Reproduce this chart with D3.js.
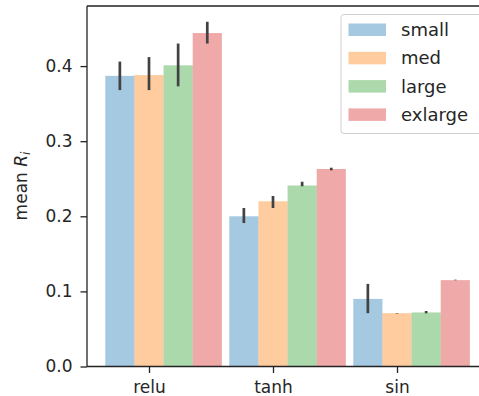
<!DOCTYPE html>
<html>
<head>
<meta charset="utf-8">
<script src="https://cdn.jsdelivr.net/npm/d3@7"></script>
<style>
  body { margin: 0; background: #fff; }
  svg { display: block; font-family: "DejaVu Sans", sans-serif; }
</style>
</head>
<body>
<div id="chart"></div>
<script>
// categories and hue levels
let activations = ["relu", "tanh", "sin"];
let sizes = ["small", "med", "large", "exlarge"];
let colors = ["#1f77b4", "#ff7f0e", "#2ca02c", "#d62728"];

// mean values per size, one entry per activation
let smallVals = [0.387, 0.200, 0.090];
let medVals = [0.388, 0.220, 0.071];
let largeVals = [0.401, 0.241, 0.072];
let exlargeVals = [0.444, 0.263, 0.115];

// error bar bounds (low, high)
let smallErr = [[0.368, 0.406], [0.191, 0.211], [0.071, 0.110]];
let medErr = [[0.368, 0.412], [0.211, 0.227], [0.0705, 0.0712]];
let largeErr = [[0.373, 0.430], [0.240, 0.246], [0.0708, 0.0739]];
let exlargeErr = [[0.430, 0.459], [0.2612, 0.2647], [0.1148, 0.1156]];

let yTicks = [0.0, 0.1, 0.2, 0.3, 0.4];

let allVals = [smallVals, medVals, largeVals, exlargeVals];
let allErr = [smallErr, medErr, largeErr, exlargeErr];

let bars = [];
sizes.forEach(function(s, j) {
  activations.forEach(function(a, i) {
    bars.push({ size: s, hue: j, cat: i, value: allVals[j][i], lo: allErr[j][i][0], hi: allErr[j][i][1] });
  });
});

let svgWidth = 479;
let svgHeight = 396;
let barW = 0.235;

let xScale = d3.scaleLinear()
  .domain([-0.5, 2.8])
  .range([87, 87 + 3.3 * 124]);

let yScale = d3.scaleLinear()
  .domain([0, 0.48])
  .range([366.5, 6]);

let svg = d3.select("#chart").append("svg")
  .attr("width", svgWidth)
  .attr("height", svgHeight);

// bars
svg.selectAll("rect.bar")
  .data(bars)
  .enter()
  .append("rect")
  .attr("class", "bar")
  .attr("x", function(d) { return xScale(d.cat + (d.hue - 1) * barW - barW / 2); })
  .attr("width", xScale(barW) - xScale(0))
  .attr("y", function(d) { return yScale(d.value); })
  .attr("height", function(d) { return yScale(0) - yScale(d.value); })
  .attr("fill", function(d) { return colors[d.hue]; })
  .attr("fill-opacity", 0.4);

// error bars
svg.selectAll("line.err")
  .data(bars)
  .enter()
  .append("line")
  .attr("class", "err")
  .attr("x1", function(d) { return xScale(d.cat + (d.hue - 1) * barW); })
  .attr("x2", function(d) { return xScale(d.cat + (d.hue - 1) * barW); })
  .attr("y1", function(d) { return yScale(d.lo); })
  .attr("y2", function(d) { return yScale(d.hi); })
  .attr("stroke", "#424242")
  .attr("stroke-width", 2.7);

// y axis
let yAxis = svg.append("g")
  .attr("transform", "translate(87,0)")
  .call(d3.axisLeft(yScale).tickValues(yTicks).tickFormat(d3.format(".1f")).tickSize(6.5).tickPadding(8));

// x axis
let xAxis = svg.append("g")
  .attr("transform", "translate(0,366.5)")
  .call(d3.axisBottom(xScale).tickValues([0, 1, 2]).tickFormat(function(d) { return activations[d]; }).tickSize(6.5).tickPadding(8));

svg.selectAll(".domain").attr("stroke", "#222").attr("stroke-width", 1.3);
svg.selectAll(".tick line").attr("stroke", "#222").attr("stroke-width", 1.3);
svg.selectAll(".tick text").attr("fill", "#262626").style("font-size", "17px")
  .style("font-family", "DejaVu Sans, sans-serif");
yAxis.select(".domain").attr("d", "M0,6V366.5");
xAxis.select(".domain").attr("d", "M87,0H" + svgWidth);

// top spine
svg.append("line")
  .attr("x1", 87).attr("x2", svgWidth)
  .attr("y1", 6).attr("y2", 6)
  .attr("stroke", "#222").attr("stroke-width", 1.3);

// y label
let ylab = svg.append("text")
  .attr("transform", "translate(27,186) rotate(-90)")
  .attr("text-anchor", "middle")
  .attr("fill", "#262626")
  .style("font-size", "17px");
ylab.append("tspan").text("mean ");
ylab.append("tspan").attr("font-style", "italic").text("R");
ylab.append("tspan").attr("font-style", "italic").attr("dy", 3).style("font-size", "12px").text("i");

// legend
let legend = svg.append("g").attr("transform", "translate(341,14.5)");
legend.append("rect")
  .attr("width", 150).attr("height", 119)
  .attr("rx", 3)
  .attr("fill", "#fff").attr("fill-opacity", 0.8)
  .attr("stroke", "#d0d0d0");

let items = legend.selectAll("g.item")
  .data(sizes)
  .enter()
  .append("g")
  .attr("class", "item")
  .attr("transform", function(d, i) { return "translate(0," + (i * 28.3) + ")"; });

items.append("rect")
  .attr("x", 7.5).attr("y", 9)
  .attr("width", 37.5).attr("height", 12.5)
  .attr("fill", function(d, i) { return colors[i]; })
  .attr("fill-opacity", 0.4);

items.append("text")
  .attr("x", 60).attr("y", 15.3)
  .attr("dy", "0.35em")
  .attr("fill", "#262626")
  .style("font-size", "18px")
  .text(function(d) { return d; });
</script>
</body>
</html>
